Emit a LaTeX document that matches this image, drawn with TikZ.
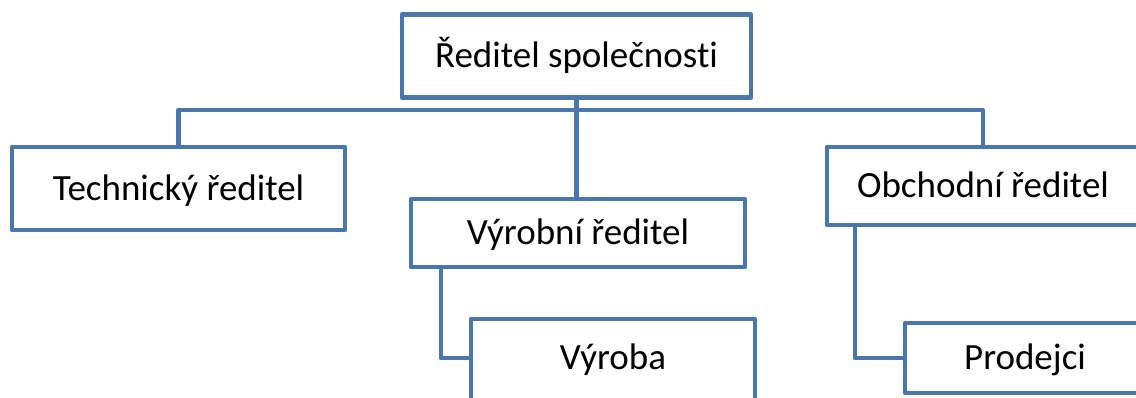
\documentclass[tikz,border=0pt]{standalone}
\usepackage{fontspec}
\setmainfont{Carlito}[Ligatures=NoCommon]
\usetikzlibrary{calc}
\definecolor{boxblue}{RGB}{74,118,171}
\begin{document}
\begin{tikzpicture}[x=1pt,y=-1pt,
  orgbox/.style={draw=boxblue, line width=4.5pt, fill=white, inner sep=0pt,
    line join=round, font=\fontsize{37}{40}\selectfont, text=black,
    text height=23.5pt, text depth=0pt, anchor=center},
  link/.style={draw=boxblue, line width=4.5pt, line join=round}]
\useasboundingbox (0,0) rectangle (1136,398);
\clip (0,0) rectangle (1136,398);
\node[orgbox, minimum width=349pt, minimum height=83pt] (top) at (576.5,56) {Ředitel společnosti};
\node[orgbox, minimum width=333pt, minimum height=83pt] (tech) at (178.5,188.5) {Technický ředitel};
\node[orgbox, minimum width=334pt, minimum height=68pt] (vyr) at (578,233) {Výrobní ředitel};
\node[orgbox, minimum width=312pt, minimum height=78pt] (obch) at (983,186) {Obchodní ředitel};
\node[orgbox, minimum width=284pt, minimum height=88pt] (vyroba) at (613,363) {};
\node[font=\fontsize{37}{40}\selectfont, text height=23.5pt, text depth=0pt, inner sep=0pt] (vyrobatext) at (613,358) {Výroba};
\node[orgbox, minimum width=240pt, minimum height=70pt] (prod) at (1025,358) {Prodejci};
\coordinate (busy) at (0,110);
\coordinate (vyrleg) at ($(vyr.south west)+(32,0)$);
\coordinate (obchleg) at ($(obch.south west)+(30,0)$);
\draw[link] (tech.north) -- (tech.north |- busy) -- (obch.north |- busy) -- (obch.north);
\draw[link] (top.south) -- (top.south |- vyr.north);
\draw[link] (vyrleg) |- (vyroba.west |- vyrobatext);
\draw[link] (obchleg) |- (prod.west);
\end{tikzpicture}
\end{document}
